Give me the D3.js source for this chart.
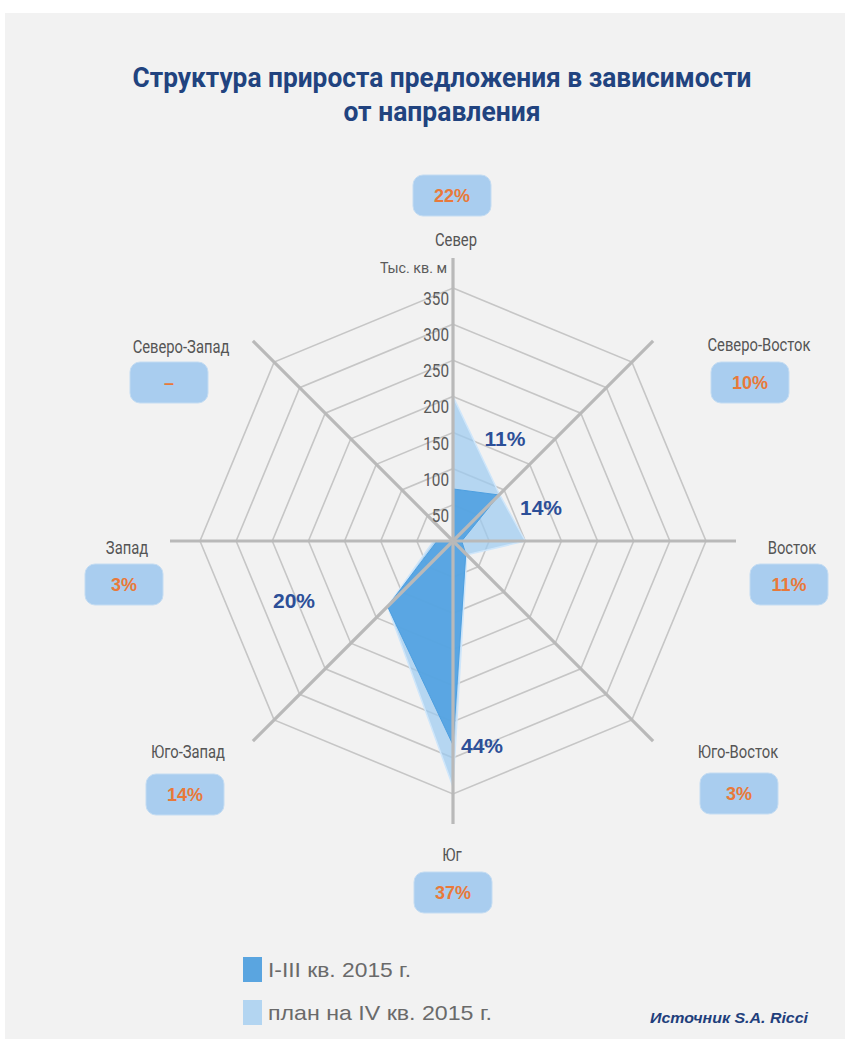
<!DOCTYPE html>
<html>
<head>
<meta charset="utf-8">
<script src="https://cdn.jsdelivr.net/npm/d3@7"></script>
<style>
  html, body { margin: 0; padding: 0; background: #ffffff; }
  svg { display: block; }
  .narrow { font-family: "Liberation Sans Narrow", "Roboto", "Liberation Sans", sans-serif; }
</style>
</head>
<body>
<svg id="chart" width="845" height="1039"></svg>
<script>
// Directions (clockwise from north)
const directions = ["Север", "Северо-Восток", "Восток", "Юго-Восток", "Юг", "Юго-Запад", "Запад", "Северо-Запад"];
// Supply increase, thousand sq. m
const actual2015 = [72, 90, 12, 25, 282, 128, 22, 0];     // I-III кв. 2015 г.
const planQ4 = [200, 91, 100, 27, 340, 128, 27, 0];        // план на IV кв. 2015 г.
// Shares of the plan by direction
const planShares = ["22%", "10%", "11%", "3%", "37%", "14%", "3%", "–"];
// Shares of I-III quarter volume (labelled directions only)
const actualShareDirs = ["Север", "Северо-Восток", "Юго-Запад", "Юг"];
const actualShares = ["11%", "14%", "20%", "44%"];
const radialTicks = [50, 100, 150, 200, 250, 300, 350];
const legendLabels = ["I-III кв. 2015 г.", "план на IV кв. 2015 г."];

const svg = d3.select("#chart");
const W = 845, H = 1039;

// squeeze a text element horizontally to a condensed look
function condense(sel, k) {
  sel.each(function () {
    const len = this.getComputedTextLength();
    d3.select(this).attr("textLength", len * k).attr("lengthAdjust", "spacingAndGlyphs");
  });
  return sel;
}

// panel background
svg.append("rect").attr("x", 5).attr("y", 13).attr("width", W - 5).attr("height", H - 13).attr("fill", "#f2f2f2");

// title
const titleLines = [
  { text: "Структура прироста предложения в зависимости", y: 87, w: 619 },
  { text: "от направления", y: 121, w: 197 }
];
titleLines.forEach(l => {
  svg.append("text").attr("class", "narrow")
    .attr("x", 442).attr("y", l.y)
    .attr("text-anchor", "middle").attr("fill", "#21437f")
    .attr("font-weight", "bold").attr("font-size", 28)
    .attr("textLength", l.w).attr("lengthAdjust", "spacingAndGlyphs")
    .text(l.text);
});

const cx = 453, cy = 541;
const r = d3.scaleLinear().domain([0, 350]).range([0, 253]);
const angle = d3.scalePoint().domain(directions).range([0, 2 * Math.PI * 7 / 8]);
const axisLen = 283;

const g = svg.append("g").attr("transform", `translate(${cx},${cy})`);

// octagonal grid
const gridLine = d3.lineRadial().curve(d3.curveLinearClosed);
g.append("g").selectAll("path").data(radialTicks).join("path")
  .attr("d", t => gridLine(directions.map(d => [angle(d), r(t)])))
  .attr("fill", "none").attr("stroke", "#c6c6c6").attr("stroke-width", 1.6);

// series areas
const area = d3.lineRadial()
  .angle((d, i) => angle(directions[i]))
  .radius(d => r(d))
  .curve(d3.curveLinearClosed);

g.append("path").attr("d", area(planQ4))
  .attr("fill", "#9ccaf0").attr("fill-opacity", 0.72)
  .attr("stroke", "#cfe6fa").attr("stroke-width", 1.5);
g.append("path").attr("d", area(actual2015))
  .attr("fill", "#4d9fe0").attr("fill-opacity", 0.88)
  .attr("stroke", "#4d9fe0").attr("stroke-width", 1);

// axes
g.append("g").selectAll("line").data(directions).join("line")
  .attr("x1", 0).attr("y1", 0)
  .attr("x2", d => axisLen * Math.sin(angle(d)))
  .attr("y2", d => -axisLen * Math.cos(angle(d)))
  .attr("stroke", "#b9b9b9").attr("stroke-width", 3.2);

// radial tick labels
condense(g.append("g").selectAll("text").data(radialTicks).join("text")
  .attr("class", "narrow")
  .attr("x", -4).attr("y", t => -r(t) + 17)
  .attr("text-anchor", "end").attr("fill", "#5a5a5a").attr("font-size", 18)
  .text(d => d), 0.85);
condense(g.append("text").attr("class", "narrow")
  .attr("x", -6).attr("y", -268).attr("text-anchor", "end")
  .attr("fill", "#5a5a5a").attr("font-size", 15).text("Тыс. кв. м"), 0.95);

// direction labels and plan share badges
const labelPos = {
  "Север": { lx: 456, ly: 246, bx: 452, by: 196 },
  "Северо-Восток": { lx: 759, ly: 351, bx: 750, by: 383 },
  "Восток": { lx: 792, ly: 554, bx: 789, by: 585 },
  "Юго-Восток": { lx: 738, ly: 758, bx: 739, by: 794 },
  "Юг": { lx: 452, ly: 861, bx: 453, by: 893 },
  "Юго-Запад": { lx: 188, ly: 758, bx: 185, by: 795 },
  "Запад": { lx: 127, ly: 554, bx: 124, by: 585 },
  "Северо-Запад": { lx: 181, ly: 353, bx: 169, by: 383 }
};
const lab = svg.append("g");
directions.forEach((d, i) => {
  const p = labelPos[d];
  condense(lab.append("text").attr("class", "narrow")
    .attr("x", p.lx).attr("y", p.ly).attr("text-anchor", "middle")
    .attr("fill", "#555").attr("font-size", 18).text(d), 0.82);
  lab.append("rect").attr("x", p.bx - 39).attr("y", p.by - 21)
    .attr("width", 78).attr("height", 41).attr("rx", 10)
    .attr("fill", "#a9cdef").attr("stroke", "#c4dcf2").attr("stroke-width", 1);
  lab.append("text").attr("x", p.bx).attr("y", p.by + 6)
    .attr("text-anchor", "middle").attr("fill", "#e8793a")
    .attr("font-family", "Liberation Sans, Arial, sans-serif")
    .attr("font-weight", "bold").attr("font-size", 18).text(planShares[i]);
});

// share labels for I-III quarter
const sharePos = { "Север": [505, 446], "Северо-Восток": [541, 515], "Юго-Запад": [294, 608], "Юг": [482, 753] };
actualShareDirs.forEach((d, i) => {
  svg.append("text").attr("x", sharePos[d][0]).attr("y", sharePos[d][1])
    .attr("text-anchor", "middle").attr("fill", "#2c4f98")
    .attr("font-family", "Liberation Sans, Arial, sans-serif")
    .attr("font-weight", "bold").attr("font-size", 21).text(actualShares[i]);
});

// legend
const legendColors = ["#5aa5e0", "#b3d5f1"];
const legendWidths = [143, 224];
legendLabels.forEach((t, i) => {
  const y0 = 957 + i * 43;
  svg.append("rect").attr("x", 243).attr("y", y0).attr("width", 19).attr("height", 25)
    .attr("fill", legendColors[i]);
  svg.append("text").attr("x", 268).attr("y", y0 + 20)
    .attr("font-family", "Liberation Sans, Arial, sans-serif")
    .attr("fill", "#6a6a6a").attr("font-size", 21)
    .attr("textLength", legendWidths[i]).attr("lengthAdjust", "spacingAndGlyphs")
    .text(t);
});

// source
svg.append("text").attr("x", 808).attr("y", 1023).attr("text-anchor", "end")
  .attr("font-family", "Liberation Sans, Arial, sans-serif")
  .attr("font-style", "italic").attr("font-weight", "bold")
  .attr("fill", "#1f3f7c").attr("font-size", 15)
  .attr("textLength", 158).attr("lengthAdjust", "spacingAndGlyphs")
  .text("Источник S.A. Ricci");
</script>
</body>
</html>
